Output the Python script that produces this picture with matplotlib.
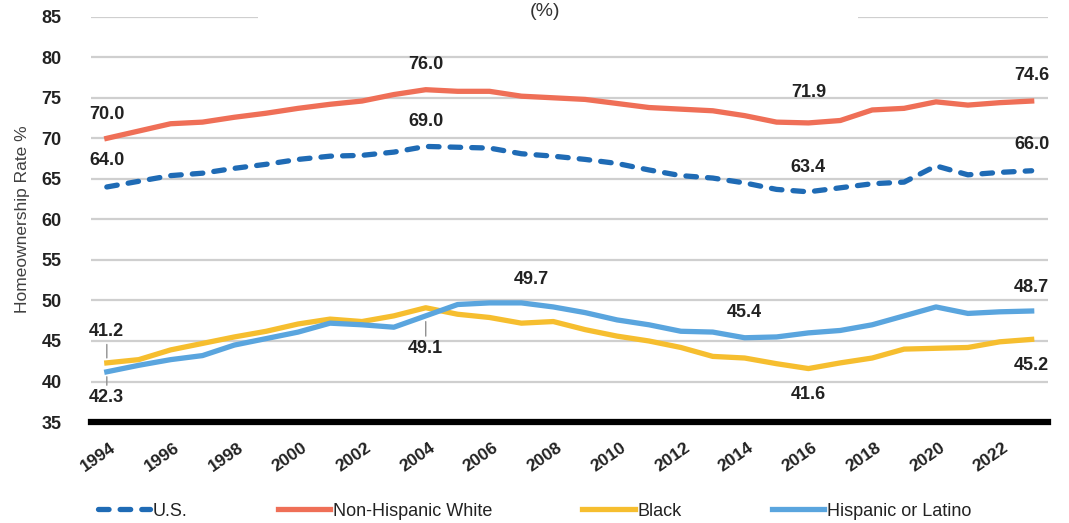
import matplotlib.pyplot as plt
from matplotlib.patches import Rectangle
from matplotlib.transforms import ScaledTranslation

plt.rcParams['font.family'] = ['Liberation Sans', 'DejaVu Sans']

# homeownership rate by group, 1994-2023 (%)
years = list(range(1994, 2024))
us = [64.0, 64.7, 65.4, 65.7, 66.3, 66.8, 67.4, 67.8, 67.9, 68.3,
      69.0, 68.9, 68.8, 68.1, 67.8, 67.4, 66.9, 66.1, 65.4, 65.1,
      64.5, 63.7, 63.4, 63.9, 64.4, 64.6, 66.6, 65.5, 65.8, 66.0]
white = [70.0, 70.9, 71.8, 72.0, 72.6, 73.1, 73.7, 74.2, 74.6, 75.4,
         76.0, 75.8, 75.8, 75.2, 75.0, 74.8, 74.3, 73.8, 73.6, 73.4,
         72.8, 72.0, 71.9, 72.2, 73.5, 73.7, 74.5, 74.1, 74.4, 74.6]
black = [42.3, 42.7, 43.9, 44.7, 45.5, 46.2, 47.1, 47.7, 47.4, 48.1,
         49.1, 48.3, 47.9, 47.2, 47.4, 46.4, 45.6, 45.0, 44.2, 43.1,
         42.9, 42.2, 41.6, 42.3, 42.9, 44.0, 44.1, 44.2, 44.9, 45.2]
hispanic = [41.2, 42.0, 42.7, 43.2, 44.5, 45.3, 46.1, 47.2, 47.0, 46.7,
            48.1, 49.5, 49.7, 49.7, 49.2, 48.5, 47.6, 47.0, 46.2, 46.1,
            45.4, 45.5, 46.0, 46.3, 47.0, 48.1, 49.2, 48.4, 48.6, 48.7]

names = ['U.S.', 'Non-Hispanic White', 'Black', 'Hispanic or Latino']
colors = ['#1F6BB5', '#EF6F57', '#F6BE2F', '#5AA5DE']

fig = plt.figure(figsize=(10.69, 5.23), dpi=100)
ax = fig.add_axes([0.085, 0.193, 0.895, 0.775])

ax.plot(years, us, color=colors[0], lw=3.8, ls=(0, (2.0, 2.1)), dash_capstyle='round',
        label=names[0], zorder=3)
ax.plot(years, white, color=colors[1], lw=3.8, label=names[1], zorder=3)
ax.plot(years, black, color=colors[2], lw=3.8, label=names[2], zorder=3)
ax.plot(years, hispanic, color=colors[3], lw=3.8, label=names[3], zorder=3)

ax.set_xlim(1993.5, 2023.5)
ax.set_ylim(35, 85)
ax.set_yticks(range(35, 90, 5))
ax.set_xticks(years[::2])
ax.set_xticklabels([str(y) for y in years[::2]], rotation=35, ha='right',
                   rotation_mode='anchor', fontweight='bold', fontsize=12.5, color='#222222')
ax.tick_params(axis='x', length=0, pad=13)
for t in ax.get_xticklabels():
    t.set_transform(t.get_transform() + ScaledTranslation(0.03, 0, fig.dpi_scale_trans))
ax.tick_params(axis='y', length=0, pad=21, labelsize=13, labelcolor='#222222')
for t in ax.get_yticklabels():
    t.set_fontweight('bold')
ax.grid(axis='y', color='#CFCFCF', lw=1.6, zorder=0)
for s in ax.spines.values():
    s.set_visible(False)
ax.axhline(35, color='black', lw=4.5, zorder=4, clip_on=False)
ax.set_ylabel('Homeownership Rate %', fontsize=12.5, color='#404040')
ax.yaxis.set_label_coords(-0.064, 0.5)

# value labels
def lab(year, series, dy, dx=0, leader=False):
    v = series[years.index(year)]
    kw = {}
    if leader:
        kw['arrowprops'] = dict(arrowstyle='-', color='#909090', lw=1, shrinkA=1, shrinkB=10)
    ax.annotate(f'{v:.1f}', xy=(year, v), xytext=(dx, dy), textcoords='offset pixels',
                ha='center', va='center', fontsize=13, fontweight='bold',
                color='#222222', zorder=5, **kw)

lab(1994, white, 24)
lab(2004, white, 25)
lab(2016, white, 30)
lab(2023, white, 26)
lab(1994, us, 26)
lab(2004, us, 25)
lab(2016, us, 24)
lab(2023, us, 26)
lab(2007, hispanic, 23, dx=10)
lab(2014, hispanic, 25)
lab(2023, hispanic, 24)
lab(2016, black, -26)
lab(2023, black, -26)
lab(1994, hispanic, 40, leader=True)
lab(1994, black, -35, leader=True)
lab(2004, black, -41, leader=True)

# title box over the top gridline
ax.add_patch(Rectangle((258 / 1069, 1 - 30 / 523), 600 / 1069, 30 / 523,
                       transform=fig.transFigure, facecolor='white',
                       edgecolor='none', zorder=6, clip_on=False))
fig.text(545 / 1069, 1 - 11 / 523, '(%)', ha='center', va='center',
         fontsize=14, color='#333333', zorder=7)

fig.legend(loc='center', bbox_to_anchor=(0.5, 1 - 511 / 523), ncol=4, frameon=False,
           fontsize=13, handlelength=2.9, handletextpad=0.15, columnspacing=5.0,
           labelcolor='#222222')

fig.savefig('out.png', dpi=100)
